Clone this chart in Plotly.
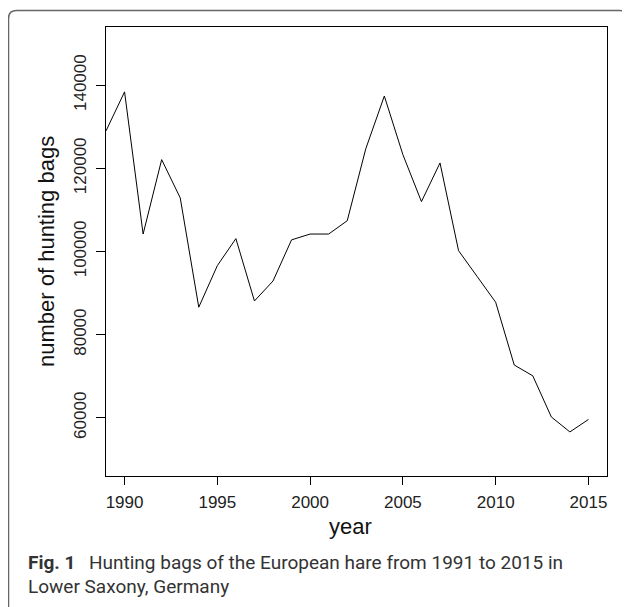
import plotly.graph_objects as go

years = list(range(1989, 2016))
bags = [129000, 138400, 104200, 122100, 112900, 86600, 96600, 103100, 88100,
        92900, 102800, 104200, 104200, 107400, 124700, 137400, 123300, 112000,
        121300, 100200, 94000, 87800, 72700, 70100, 60200, 56600, 59600]

x_ticks = [1990, 1995, 2000, 2005, 2010, 2015]
y_ticks = [60000, 80000, 100000, 120000, 140000]
y_tick_labels = ["60000", "80000", "100000", "120000", "140000"]

# the page body adds an 8px margin, so the figure is laid out in page coords minus 8
O = 8
W, H = 630 - O, 607 - O
L, R, T, B = 106, 607, 27, 476   # plot box in page coordinates

def px(x):
    return (x - L) / (R - L)

def py(y):
    return (B - y) / (B - T)

fig = go.Figure()
fig.add_trace(go.Scatter(x=years, y=bags, mode="lines",
                         line=dict(color="black", width=1), showlegend=False))

axis_font = dict(family="Liberation Sans, Arial, sans-serif", size=17, color="#222")
fig.update_xaxes(range=[1989, 2016], tickvals=x_ticks, ticks="outside", ticklen=8,
                 tickcolor="black", showline=True, linecolor="black", linewidth=1,
                 mirror=True, showgrid=False, zeroline=False, tickfont=axis_font,
                 ticklabelstandoff=3, automargin=False)
fig.update_yaxes(range=[46000, 154000], tickvals=y_ticks, ticktext=y_tick_labels,
                 ticks="outside", ticklen=9,
                 tickcolor="black", showline=True, linecolor="black", linewidth=1,
                 mirror=True, showgrid=False, zeroline=False, tickfont=axis_font,
                 tickangle=-90, ticklabelstandoff=3, automargin=False)

title_font = dict(family="Liberation Sans, Arial, sans-serif", size=22, color="#111")
cap_font = dict(family="Roboto, sans-serif", size=19, color="#333")
annotations = [
    dict(text="year", x=px(350), y=py(526), xref="paper", yref="paper",
         showarrow=False, font=title_font, xanchor="center", yanchor="middle"),
    dict(text="number of hunting bags", x=px(46), y=py(252), xref="paper", yref="paper",
         showarrow=False, font=title_font, textangle=-90, xanchor="center", yanchor="middle"),
    dict(text="<b>Fig. 1</b>", x=px(26), y=py(562), xref="paper", yref="paper",
         showarrow=False, font=cap_font, xanchor="left", yanchor="middle"),
    dict(text="Hunting bags of the European hare from 1991 to 2015 in", x=px(87), y=py(562),
         xref="paper", yref="paper", showarrow=False, font=cap_font,
         xanchor="left", yanchor="middle"),
    dict(text="Lower Saxony, Germany", x=px(26), y=py(586), xref="paper", yref="paper",
         showarrow=False, font=cap_font, xanchor="left", yanchor="middle"),
]

r = 8
xl, xr, yt, yb = 8.5, 628, 10.5, 640
path = (f"M {px(xl)},{py(yb)} L {px(xl)},{py(yt + r)} "
        f"Q {px(xl)},{py(yt)} {px(xl + r)},{py(yt)} "
        f"L {px(xr - r)},{py(yt)} Q {px(xr)},{py(yt)} {px(xr)},{py(yt + r)} "
        f"L {px(xr)},{py(yb)}")
shapes = [dict(type="path", path=path, xref="paper", yref="paper",
               line=dict(color="#666", width=1.5), layer="below")]

fig.update_layout(width=W, height=H,
                  margin=dict(l=L - O, r=(W + O) - R, t=T - O, b=(H + O) - B),
                  paper_bgcolor="white", plot_bgcolor="white", template="none",
                  annotations=annotations, shapes=shapes)

fig.write_html("out.html")
